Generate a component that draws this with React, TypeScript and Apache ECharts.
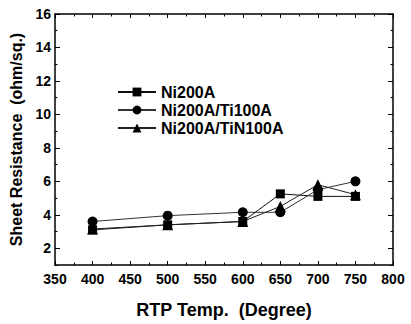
import React, { useEffect, useRef } from "react";
import * as echarts from "echarts";

const temps = [400, 500, 600, 650, 700, 750];
const ni200: number[] = [3.1, 3.4, 3.6, 5.25, 5.1, 5.1];
const niTi: number[] = [3.6, 3.95, 4.15, 4.15, 5.5, 6.0];
const niTiN: number[] = [3.15, 3.4, 3.6, 4.5, 5.8, 5.2];
const seriesNames = ["Ni200A", "Ni200A/Ti100A", "Ni200A/TiN100A"];
const yMajor = [2, 4, 6, 8, 10, 12, 14, 16];

const FONT = "'Liberation Sans', Arial, sans-serif";

export default function App() {
  const ref = useRef<HTMLDivElement>(null);
  useEffect(() => {
    if (!ref.current) return;
    const chart = echarts.init(ref.current, undefined, { renderer: "svg" });
    const pair = (ys: number[]) => temps.map((t, i) => [t, ys[i]]);
    const axisLine = { show: true, lineStyle: { color: "#000", width: 1.5 } };
    const yBase = { type: "value" as const, min: 1, max: 16, splitLine: { show: false } };
    chart.setOption({
      animation: false,
      backgroundColor: "#fff",
      grid: { left: 55, right: 18, top: 14, bottom: 54, containLabel: false },
      legend: {
        orient: "vertical",
        left: 112,
        top: 79,
        itemWidth: 38,
        itemHeight: 11,
        itemGap: 2,
        data: seriesNames,
        textStyle: { fontFamily: FONT, fontWeight: "bold", fontSize: 16, color: "#000", lineHeight: 16 },
      },
      xAxis: [
        {
          type: "value",
          min: 350,
          max: 800,
          interval: 50,
          position: "bottom",
          axisLine,
          axisTick: { inside: true, length: 4, lineStyle: { color: "#000" } },
          minorTick: { show: true, splitNumber: 2, length: 2.5, lineStyle: { color: "#000" } },
          splitLine: { show: false },
          axisLabel: { fontFamily: FONT, fontWeight: "bold", fontSize: 14, color: "#000", margin: 7 },
          name: "RTP Temp.  (Degree)",
          nameLocation: "middle",
          nameGap: 36,
          nameTextStyle: { fontFamily: FONT, fontWeight: "bold", fontSize: 18, color: "#000" },
        },
        {
          type: "value",
          min: 350,
          max: 800,
          interval: 50,
          position: "top",
          axisLine,
          axisTick: { inside: true, length: 4, lineStyle: { color: "#000" } },
          minorTick: { show: true, splitNumber: 2, length: 2.5, lineStyle: { color: "#000" } },
          splitLine: { show: false },
          axisLabel: { show: false },
        },
      ],
      yAxis: [
        {
          ...yBase,
          position: "left",
          interval: 1,
          axisLine,
          axisTick: { inside: true, length: 2.5, lineStyle: { color: "#000" } },
          axisLabel: {
            fontFamily: FONT,
            fontWeight: "bold",
            fontSize: 14,
            color: "#000",
            margin: 4,
            formatter: (v: number) => (v % 2 === 0 ? String(v) : ""),
          },
          name: "Sheet Resistance  (ohm/sq.)",
          nameLocation: "middle",
          nameGap: 18,
          nameTextStyle: { fontFamily: FONT, fontWeight: "bold", fontSize: 16, color: "#000" },
        },
        {
          ...yBase,
          position: "left",
          axisLine: { show: false },
          axisTick: { inside: true, length: 5, customValues: yMajor, lineStyle: { color: "#000" } },
          axisLabel: { show: false },
        },
        {
          ...yBase,
          position: "right",
          interval: 1,
          axisLine,
          axisTick: { inside: true, length: 2.5, lineStyle: { color: "#000" } },
          axisLabel: { show: false },
        },
        {
          ...yBase,
          position: "right",
          axisLine: { show: false },
          axisTick: { inside: true, length: 5, customValues: yMajor, lineStyle: { color: "#000" } },
          axisLabel: { show: false },
        },
      ],
      series: [
        {
          name: seriesNames[0],
          type: "line",
          data: pair(ni200),
          symbol: "rect",
          symbolSize: 9,
          itemStyle: { color: "#000" },
          lineStyle: { color: "#111", width: 1 },
        },
        {
          name: seriesNames[1],
          type: "line",
          data: pair(niTi),
          symbol: "circle",
          symbolSize: 10,
          itemStyle: { color: "#000" },
          lineStyle: { color: "#333", width: 1 },
        },
        {
          name: seriesNames[2],
          type: "line",
          data: pair(niTiN),
          symbol: "triangle",
          symbolSize: 11,
          itemStyle: { color: "#000" },
          lineStyle: { color: "#222", width: 1 },
        },
      ],
    });
    return () => chart.dispose();
  }, []);
  return <div ref={ref} style={{ width: 411, height: 324, position: "absolute", left: 0, top: 0 }} />;
}
